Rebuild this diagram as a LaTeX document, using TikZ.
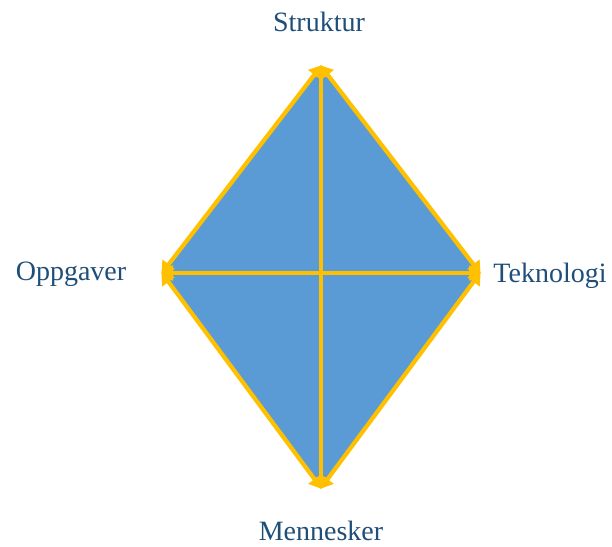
\documentclass[tikz,border=0pt]{standalone}
\usepackage{fontspec}
\setmainfont{Liberation Serif}
\usetikzlibrary{arrows.meta}
\definecolor{fillblue}{HTML}{5B9BD5}
\definecolor{edgegold}{HTML}{FFC000}
\definecolor{labelblue}{HTML}{1F4E79}
\begin{document}
\begin{tikzpicture}[x=1pt,y=-1pt,
  edge/.style={draw=edgegold,line width=4.2pt,{Triangle[width=15pt,length=12pt]}-{Triangle[width=15pt,length=12pt]},shorten <=-1pt,shorten >=-1pt},
  lbl/.style={text=labelblue,font=\fontsize{28}{32}\selectfont,inner sep=0pt}]
\useasboundingbox (0,0) rectangle (612,546);
\coordinate (T) at (321,66);
\coordinate (B) at (321,488);
\coordinate (L) at (162,273);
\coordinate (R) at (480,273);
\fill[fillblue] (T) -- (R) -- (B) -- (L) -- cycle;
\draw[edge] (T) -- (R);
\draw[edge] (R) -- (B);
\draw[edge] (B) -- (L);
\draw[edge] (L) -- (T);
\draw[edge] (T) -- (B);
\draw[edge] (L) -- (R);
\node[lbl] (struktur) at (319,22) {Struktur};
\node[lbl] (oppgaver) at (71,274) {Oppgaver};
\node[lbl] (teknologi) at (550,276) {Teknologi};
\node[lbl] (mennesker) at (321,531) {Mennesker};
\end{tikzpicture}
\end{document}
